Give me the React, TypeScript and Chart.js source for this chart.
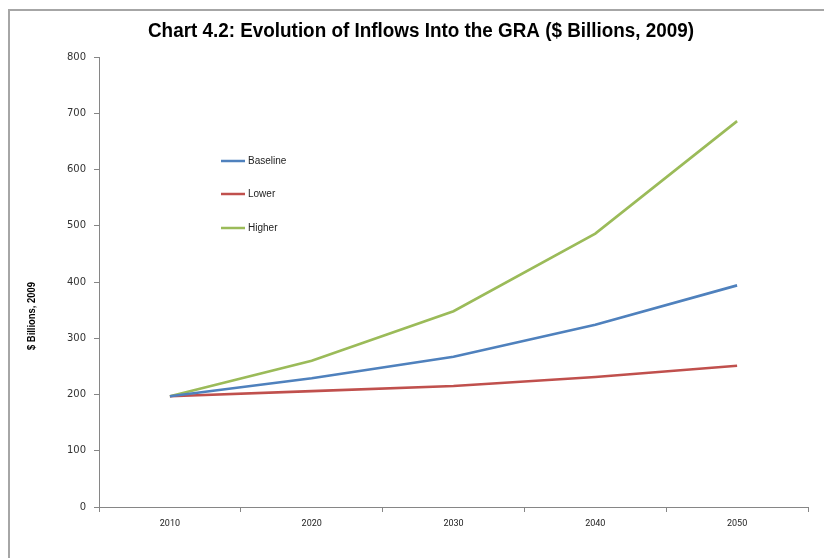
import React, { useEffect, useRef } from "react";
import { Chart, registerables } from "chart.js";

Chart.register(...registerables);

const TITLE = "Chart 4.2: Evolution of Inflows Into the GRA ($ Billions, 2009)";
const Y_TITLE = "$ Billions, 2009";
const CATEGORIES = ["2010", "2020", "2030", "2040", "2050"];
const BASELINE = [197, 229, 267, 324, 394];
const LOWER = [197, 206, 215, 231, 251];
const HIGHER = [197, 260, 348, 486, 686];
const SERIES_NAMES = ["Baseline", "Lower", "Higher"];
const SERIES_COLORS = ["#4F81BD", "#C0504D", "#9BBB59"];
const Y_MIN = 0;
const Y_MAX = 800;
const Y_STEP = 100;

function fillFit(ctx: CanvasRenderingContext2D, text: string, x: number, y: number, target: number) {
  const w = ctx.measureText(text).width;
  const s = target / w;
  ctx.save();
  ctx.translate(x, y);
  ctx.scale(s, 1);
  ctx.textAlign = "center";
  ctx.fillText(text, 0, 0);
  ctx.restore();
}

const decorPlugin = {
  id: "decor",
  afterDraw(chart: any) {
    const ctx: CanvasRenderingContext2D = chart.ctx;
    ctx.save();
    // Title
    ctx.fillStyle = "#000";
    ctx.font = "bold 20px 'Liberation Sans', Arial, sans-serif";
    ctx.textBaseline = "middle";
    fillFit(ctx, TITLE, 421, 31, 546);
    // Y title
    ctx.save();
    ctx.translate(32, 316);
    ctx.rotate(-Math.PI / 2);
    ctx.font = "bold 10px 'Liberation Sans', Arial, sans-serif";
    ctx.textBaseline = "middle";
    fillFit(ctx, Y_TITLE, 0, 0, 68);
    ctx.restore();
    // Legend
    const ys = [161, 194, 228];
    chart.data.datasets.forEach((ds: any, i: number) => {
      const y = ys[i];
      ctx.strokeStyle = ds.borderColor;
      ctx.lineWidth = 2.5;
      ctx.beginPath();
      ctx.moveTo(221, y);
      ctx.lineTo(245, y);
      ctx.stroke();
      ctx.fillStyle = "#222";
      ctx.font = "10px 'Liberation Sans', Arial, sans-serif";
      ctx.textAlign = "left";
      ctx.textBaseline = "middle";
      ctx.fillText(ds.label, 248, y + 0.5);
    });
    ctx.restore();
  },
};

export default function App() {
  const ref = useRef<HTMLCanvasElement | null>(null);
  useEffect(() => {
    if (!ref.current) return;
    const series = [BASELINE, LOWER, HIGHER];
    const chart = new Chart(ref.current, {
      type: "line",
      data: {
        labels: CATEGORIES,
        datasets: series.map((d, i) => ({
          label: SERIES_NAMES[i],
          data: d,
          borderColor: SERIES_COLORS[i],
          backgroundColor: SERIES_COLORS[i],
          borderWidth: 2.6,
          pointRadius: 0,
          tension: 0,
          fill: false,
        })),
      },
      options: {
        responsive: false,
        animation: false,
        devicePixelRatio: 1,
        layout: { padding: { left: 20, right: 16, top: 57, bottom: 0 } },
        plugins: {
          legend: { display: false },
          title: { display: false },
          tooltip: { enabled: false },
        },
        scales: {
          x: {
            type: "category",
            offset: true,
            afterFit(scale: any) {
              scale.height = 51;
            },
            grid: {
              offset: true,
              drawOnChartArea: false,
              drawTicks: true,
              tickLength: 5,
              color: "#868686",
            },
            border: { display: true, color: "#868686", width: 1 },
            ticks: {
              color: "#222",
              padding: 6,
              maxRotation: 0,
              font: { family: "Roboto, 'Liberation Sans', sans-serif", size: 9 },
            },
          },
          y: {
            min: Y_MIN,
            max: Y_MAX,
            afterFit(scale: any) {
              scale.width = 79;
            },
            grid: {
              drawOnChartArea: false,
              drawTicks: true,
              tickLength: 5,
              color: "#868686",
            },
            border: { display: true, color: "#868686", width: 1 },
            ticks: {
              stepSize: Y_STEP,
              color: "#333",
              padding: 8,
              font: { family: "'DejaVu Sans', sans-serif", size: 10 },
            },
          },
        },
      },
      plugins: [decorPlugin],
    });
    return () => chart.destroy();
  }, []);

  return (
    <div
      style={{
        position: "fixed",
        left: 0,
        top: 0,
        width: 824,
        height: 558,
        overflow: "hidden",
        background: "#fff",
      }}
    >
      <div
        style={{
          position: "absolute",
          left: 8,
          top: 9,
          width: 900,
          height: 700,
          borderLeft: "2px solid #a6a6a6",
          borderTop: "2px solid #a6a6a6",
        }}
      />
      <canvas
        ref={ref}
        width={824}
        height={558}
        style={{ position: "absolute", left: 0, top: 0, width: 824, height: 558 }}
      />
    </div>
  );
}
